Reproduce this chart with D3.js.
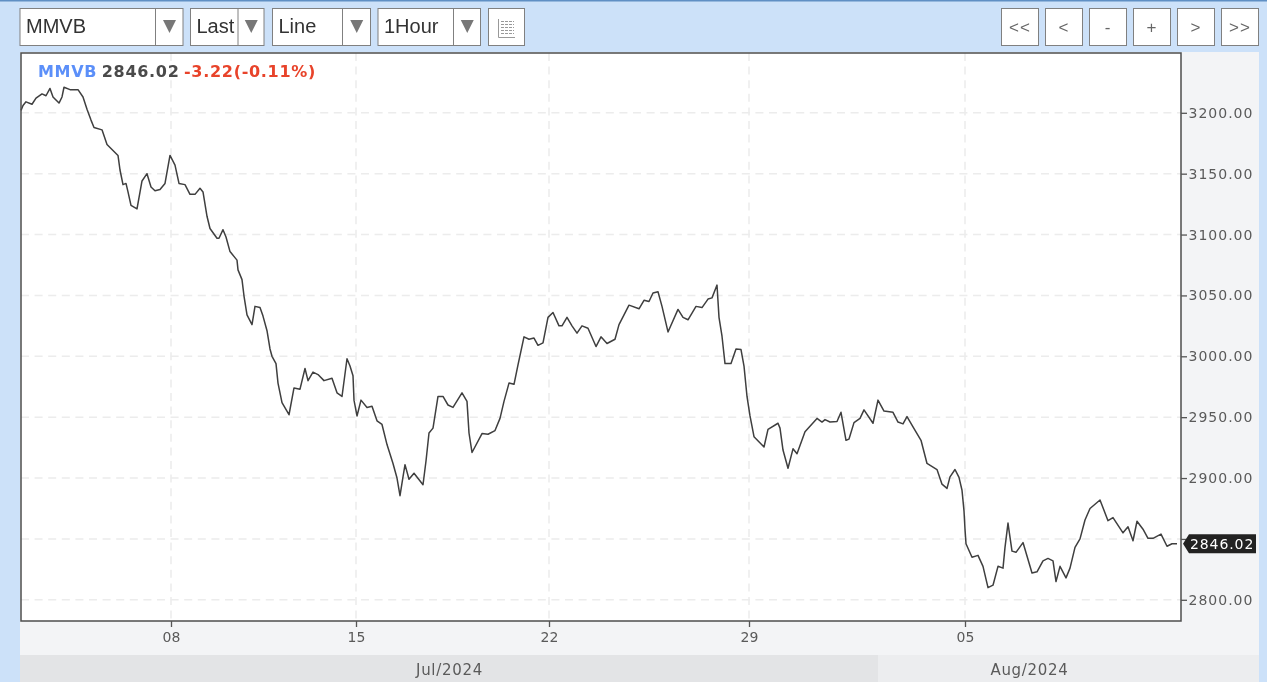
<!DOCTYPE html>
<html><head><meta charset="utf-8">
<script src="https://cdnjs.cloudflare.com/ajax/libs/d3/7.8.5/d3.min.js"></script>
<style>html,body{margin:0;padding:0;background:#fff;overflow:hidden}svg{display:block}.soft{filter:blur(.35px)}</style>
</head><body><svg id="c" width="1267" height="690"></svg>
<script>
// Time position along the chart, in 20-minute session steps
const sessionSteps=[0,2,5,11,15,21,25,29,32,38,41,43,49,57,62,66,70,73,81,86,97,99,102,105,107,110,116,121,126,130,134,139,144,149,154,158,164,169,174,179,182,186,189,196,198,202,205,209,216,
217,221,223,226,231,234,239,242,246,249,251,255,257,261,268,273,279,284,287,292,297,303,311,316,321,326,329,332,333,336,340,346,351,356,361,366,372,376,379,382,384,388,393,402,405,408,412,417,422,427,432,441,446,448,451,461,467,474,
479,483,488,493,497,503,508,513,517,522,527,532,538,541,546,551,556,561,567,575,580,586,594,598,608,618,623,628,632,637,641,647,657,662,667,675,681,687,691,696,698,701,704,710,715,720,723,726,729,733,743,747,757,
759,762,767,772,776,784,796,801,804,809,816,820,825,828,833,839,843,852,857,863,872,877,882,886,892,900,906,916,921,926,929,934,938,941,
943,944,945,951,957,962,967,972,977,982,984,987,988,991,995,1002,1011,1016,1022,1027,1032,1035,1039,1045,1049,1054,1059,1064,1069,1079,1087,1092,1102,1107,1112,1116,1122,1127,1132,1140,1146,1151,1156];
const lastPrices=[3202,3206,3209,3207,3212,3215.5,3214,3220,3213,3208,3213,3221,3219,3219,3213,3203,3194,3188,3186,3174,3165,3153,3141,3142,3135,3124,3121,3144,3150,3139,3136,3137,3142,3165,3157,3142,3141,3133,3133,3138,3135,3115,3105,3097,3097,3104,3098,3086,3079,
3071,3063,3049.5,3034,3026,3041,3040,3033,3021,3006,3000,2994,2978,2962,2952,2974,2973,2990,2980,2987,2985,2980,2982,2970,2967,2998,2992,2984,2964,2951,2964,2958,2959,2947,2944,2927.5,2912,2900,2885.5,2901,2911,2899,2904,2894.5,2914,2937,2941,2967,2967,2960,2958,2970,2963,2937,2921,2936.5,2936,2939,
2949,2963,2978,2977,2993,3016,3014,3015,3009,3011,3032,3036,3025,3025,3032,3025,3019,3025,3023,3008,3016,3010.5,3014,3026,3042,3039,3046,3045,3052,3053,3041,3020,3038.5,3032,3030,3041,3040,3047,3048,3058.5,3032,3016.5,2994,2994,3006,3005.5,2992,2967,2951,2934,2925.5,2940,2945,
2941,2923,2908,2924,2920,2938,2949,2946,2948,2946,2946.5,2954,2931,2932,2945.5,2949,2956,2945,2964,2955,2954,2946,2944.5,2950.5,2942,2931,2912,2907,2895,2891.5,2901,2907,2900.5,2890,
2873,2858,2846,2835,2836.5,2827.5,2810,2812,2827.5,2826,2843,2863,2857,2840,2839,2847,2822,2823,2832,2834,2832,2815,2827.5,2818,2826,2843,2850,2865.5,2875,2882,2865,2867.5,2855,2860,2848.5,2864.5,2858,2850.5,2850.5,2854,2844,2846,2846.02];
const priceTicks=[2800,2850,2900,2950,3000,3050,3100,3150,3200];
const hiddenPriceLabels=[2850];
const dayTickSteps=[150,335,528,728,944];
const dayTickLabels=["08","15","22","29","05"];
const monthLabels=["Jul/2024","Aug/2024"];
const monthBoundaryStep=857;
const selectLabels=["MMVB","Last","Line","1Hour"];
const navLabels=["<<","<","-","+",">",">>"];
const lastPrice=2846.02;
const legendParts=["MMVB","2846.02","-3.22(-0.11%)"];

const svg=d3.select("#c");
const P={l:21,r:1181,t:53,b:621};
const x=d3.scaleLinear().domain([0,1160]).range([P.l,P.r]);
const y=d3.scaleLinear().domain([2800,3200]).range([599.8,112.8]);
const mono='"DejaVu Sans",sans-serif', sans='"Liberation Sans",Arial,sans-serif';

// backgrounds
svg.append("rect").attr("width",1267).attr("height",682).attr("fill","#cce1f9");
svg.append("rect").attr("width",1267).attr("height",1.5).attr("fill","#5f8fc4");
svg.append("rect").attr("x",20).attr("y",52).attr("width",1239).attr("height",603).attr("fill","#f3f4f6");
const bx=x(monthBoundaryStep);
svg.append("rect").attr("x",20).attr("y",655).attr("width",bx-20).attr("height",27).attr("fill","#e3e4e6");
svg.append("rect").attr("x",bx).attr("y",655).attr("width",1259-bx).attr("height",27).attr("fill","#ecedef");
svg.append("rect").attr("x",P.l).attr("y",P.t).attr("width",P.r-P.l).attr("height",P.b-P.t).attr("fill","#fff");

// grid
const grid=svg.append("g").attr("stroke","#ececec").attr("stroke-width",1.5).attr("stroke-dasharray","8,5.6").attr("fill","none");
grid.selectAll("line.h").data(priceTicks).join("line").attr("x1",P.l).attr("x2",P.r).attr("y1",d=>y(d)).attr("y2",d=>y(d));
grid.selectAll("line.v").data(dayTickSteps).join("line").attr("x1",d=>x(d)).attr("x2",d=>x(d)).attr("y1",P.t).attr("y2",P.b);

// price line
const pts=sessionSteps.map((s,i)=>[s,lastPrices[i]]);
svg.append("path").datum(pts).attr("class","soft").attr("fill","none").attr("stroke","#3f3f3f").attr("stroke-width",1.5).attr("stroke-linejoin","round")
 .attr("d",d3.line().x(d=>x(d[0])).y(d=>y(d[1])));

// frame
svg.append("rect").attr("x",P.l).attr("y",P.t).attr("width",P.r-P.l).attr("height",P.b-P.t).attr("fill","none").attr("stroke","#4d4d4d").attr("stroke-width",1.5);

// axes
const yAxis=d3.axisRight(y).tickValues(priceTicks).tickSize(6).tickPadding(1.5).tickFormat(d=>hiddenPriceLabels.includes(d)?"":d3.format(".2f")(d));
const gy=svg.append("g").attr("transform",`translate(${P.r},0)`).call(yAxis);
gy.select(".domain").remove();
gy.selectAll("line").attr("stroke","#555").attr("stroke-width",1.3);
gy.selectAll("text").attr("class","soft").attr("fill","#5a5a5a").style("font",`14px ${mono}`).style("letter-spacing","1px");
const xAxis=d3.axisBottom(x).tickValues(dayTickSteps).tickSize(6).tickPadding(5).tickFormat((d,i)=>dayTickLabels[i]);
const gx=svg.append("g").attr("transform",`translate(0,${P.b})`).call(xAxis);
gx.select(".domain").remove();
gx.selectAll("line").attr("stroke","#555").attr("stroke-width",1.3);
gx.selectAll("text").attr("class","soft").attr("fill","#5a5a5a").style("font",`14px ${mono}`).style("letter-spacing","0.2px");

// month labels
[[P.l,bx],[bx,P.r]].forEach((r,i)=>svg.append("text").attr("class","soft").attr("x",(r[0]+r[1])/2).attr("y",675).attr("text-anchor","middle").attr("fill","#5a5a5a")
  .style("font",`15px ${mono}`).style("letter-spacing","0.7px").text(monthLabels[i]));

// last price tag
const ty=y(lastPrice);
svg.append("path").attr("fill","#222").attr("d",`M1183,${ty}L1189,${ty-9.5}H1256V${ty+9.5}H1189Z`);
svg.append("text").attr("class","soft").attr("x",1190).attr("y",ty+5.2).attr("fill","#fff").style("font",`14px ${mono}`).style("letter-spacing","0.9px").text(d3.format(".2f")(lastPrice));

// legend
const lg=svg.append("text").attr("class","soft").attr("x",38).attr("y",77).style("font",`bold 16px ${mono}`).style("letter-spacing","0.7px");
lg.append("tspan").attr("fill","#5b8ff9").text(legendParts[0]);
lg.append("tspan").attr("dx",4.5).attr("fill","#4a4a4a").text(legendParts[1]);
lg.append("tspan").attr("dx",4.5).attr("fill","#e8432a").text(legendParts[2]);

// toolbar selects
const selectBoxes=[[19.5,155.5,183.5],[190,238,264.5],[272,342.5,371],[377.5,453.5,481]];
selectBoxes.forEach((b,i)=>{
  svg.append("rect").attr("x",b[0]+.5).attr("y",8.5).attr("width",b[2]-b[0]-1).attr("height",37).attr("fill","#fff").attr("stroke","#808080");
  svg.append("line").attr("x1",b[1]).attr("x2",b[1]).attr("y1",8.5).attr("y2",45.5).attr("stroke","#808080");
  svg.append("text").attr("class","soft").attr("x",b[0]+6.5).attr("y",33).attr("fill","#333").style("font",`20px ${sans}`).text(selectLabels[i]);
  const c=(b[1]+b[2])/2;
  svg.append("path").attr("fill","#777").attr("d",`M${c-6.5},20L${c+6.5},20L${c},33Z`);
});
// table icon
svg.append("rect").attr("x",488.5).attr("y",8.5).attr("width",36).attr("height",37).attr("fill","#fff").attr("stroke","#808080");
const ic=svg.append("g").attr("stroke","#999").attr("fill","none");
ic.append("path").attr("d","M498.5,19V37.5H515");
d3.range(5).forEach(i=>ic.append("path").attr("stroke-dasharray","3,1").attr("d",`M501,${21.5+i*3}H514`));

// nav buttons
[1001,1045,1089,1133,1177,1221].forEach((bxx,i)=>{
  svg.append("rect").attr("x",bxx+.5).attr("y",8.5).attr("width",37).attr("height",37).attr("fill","#fff").attr("stroke","#808080");
  svg.append("text").attr("class","soft").attr("x",bxx+19).attr("y",33).attr("text-anchor","middle").attr("fill","#666").style("font",`17px ${sans}`).style("letter-spacing","1px").text(navLabels[i]);
});
</script></body></html>
